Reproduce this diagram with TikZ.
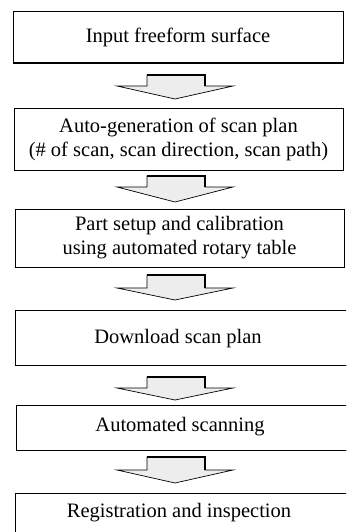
\documentclass[tikz,border=0pt]{standalone}
\usepackage{fontspec}
\setmainfont{Liberation Serif}
\begin{document}
\begin{tikzpicture}[x=1pt,y=-1pt,
  box/.style={draw=black,line width=0.8pt,rectangle,inner sep=0pt,align=center,
    font=\fontsize{20.5}{24}\selectfont},
  lbl/.style={inner sep=0pt,align=center,font=\fontsize{20.5}{24}\selectfont},
  blockarrow/.style={draw=black,line width=0.7pt,fill=gray!14,line join=miter}]
\useasboundingbox (0,0) rectangle (346,532);
\clip (0,0) rectangle (346,532);
% boxes
\node[box,minimum width=330pt,minimum height=52pt] (b1) at (178,37) {Input freeform surface};
\node[box,minimum width=329pt,minimum height=62pt] (b2) at (178.5,139) {Auto-generation of scan plan\\(\# of scan, scan direction, scan path)};
\node[box,minimum width=329pt,minimum height=58pt] (b3) at (179.5,238) {Part setup and calibration\\using automated rotary table};
\node[box,minimum width=335pt,minimum height=55pt] (b4) at (182.5,337.5) {};
\node[lbl] (t4) at (178,339) {Download scan plan};
\node[box,minimum width=334pt,minimum height=45pt] (b5) at (183,427.5) {};
\node[lbl] (t5) at (180,427) {Automated scanning};
\node[box,minimum width=335pt,minimum height=54pt] (b6) at (182.5,520) {};
\node[lbl] (t6) at (179,513) {Registration and inspection};
% thicker bottom edges
\foreach \b in {b1,b2,b3,b4,b5}{
  \draw[line width=1.8pt] (\b.south west) -- (\b.south east);
}
\foreach \b in {b1,b2,b3}{
  \draw[line width=1.4pt] (\b.north east) -- (\b.south east);
}
% block arrows
\foreach \t/\h/\p in {75/86/99, 176/187/202, 275/288/300, 377/388/400, 457/470/483}{
  \path[blockarrow] (147,\t) -- (205,\t) -- (205,\h) -- (233,\h) -- (175,\p) -- (117,\h) -- (147,\h) -- cycle;
  \draw[line width=2.4pt] (205,\t) -- (205,\h);
  \draw[line width=1.2pt] (147,\t) -- (206,\t);
}
\end{tikzpicture}
\end{document}
